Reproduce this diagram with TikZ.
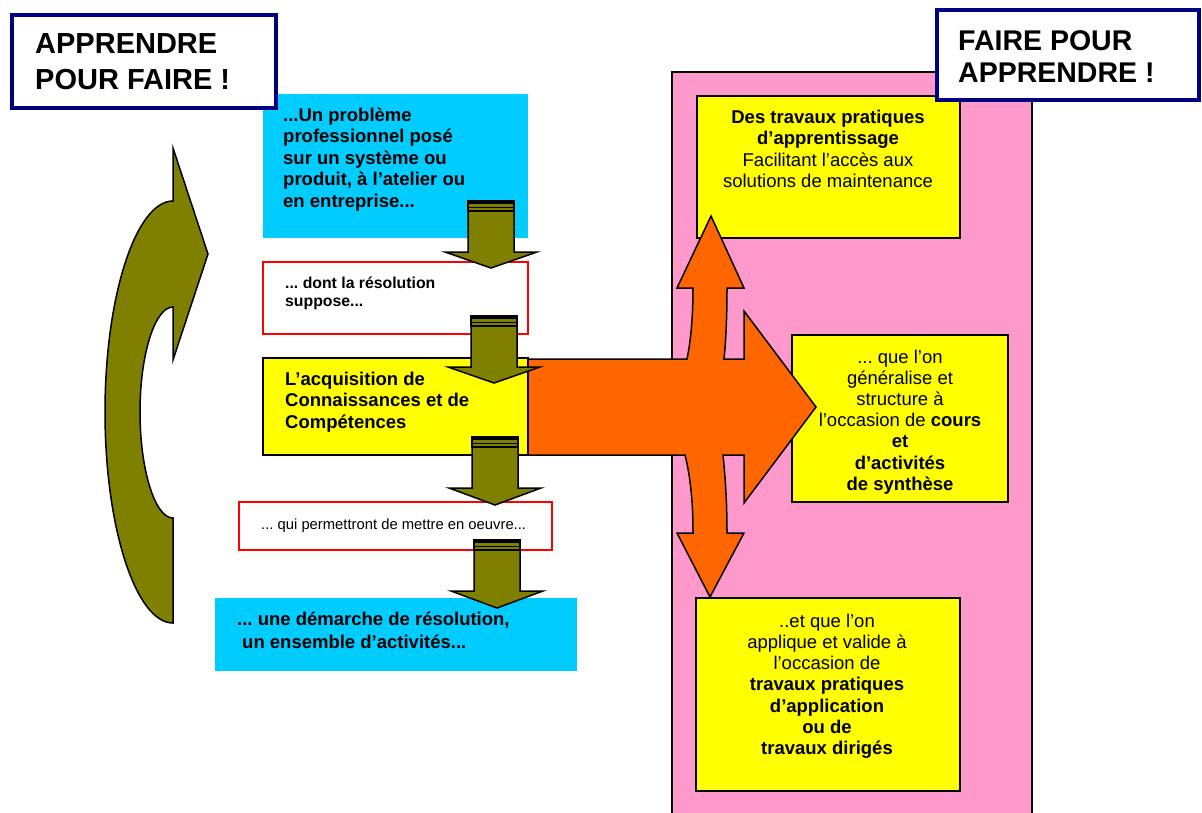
\documentclass[tikz,border=0pt]{standalone}
\usepackage{fontspec}
\setmainfont{Liberation Sans}
\frenchspacing
\definecolor{colCyan}{HTML}{00CCFF}
\definecolor{colPink}{HTML}{FF99CC}
\definecolor{colOrange}{HTML}{FF6600}
\definecolor{colOlive}{HTML}{808000}
\definecolor{colNavy}{HTML}{000080}
\definecolor{colYellow}{HTML}{FFFF00}
\definecolor{colRed}{HTML}{FF0000}
\newcommand{\myBody}{\fontsize{18.5}{21.6}\selectfont}
\newcommand{\mySmall}{\fontsize{15.8}{18}\selectfont}
\newcommand{\myTiny}{\fontsize{14.8}{17}\selectfont}
\newcommand{\myStriped}[4]{%
  \fill[colOlive] (#1-23,#2) rectangle (#1+23,#2+10);
  \draw[line width=2.6pt] (#1-23,#2+1.3) -- (#1+23,#2+1.3);
  \draw[line width=0.9pt] (#1-23,#2+6) -- (#1+23,#2+6);
  \draw[line width=1.2pt] (#1-23,#2) rectangle (#1+23,#2+10);
  \draw[olivearrow] (#1-23,#2+10) -- (#1-23,#3) -- (#1-46,#3) -- (#1,#4) -- (#1+46,#3) -- (#1+23,#3) -- (#1+23,#2+10) -- cycle;
}
\tikzset{
  boxbase/.style={anchor=north west, inner sep=0, outer sep=0},
  bluebox/.style={boxbase, fill=colCyan, draw=none},
  redbox/.style={boxbase, fill=white, draw=colRed, line width=1.3pt},
  yellowbox/.style={boxbase, fill=colYellow, draw=black, line width=1.5pt},
  pinkbox/.style={boxbase, fill=colPink, draw=black, line width=1.5pt},
  titlebox/.style={boxbase, fill=white, draw=colNavy, line width=4pt},
  lefttext/.style={anchor=base west, inner sep=0},
  centertext/.style={anchor=base, inner sep=0},
  olivearrow/.style={fill=colOlive, draw=black, line width=1.5pt, line join=miter},
  orangearrow/.style={fill=colOrange, draw=black, line width=1.5pt, line join=miter},
}
\begin{document}
\begin{tikzpicture}[x=1pt,y=-1pt]
\useasboundingbox (0,0) rectangle (1202,812);
\fill[white] (0,0) rectangle (1202,812);

% pink panel
\node[pinkbox, minimum width=360, minimum height=780] (pink) at (672,72) {};

% right yellow boxes
\node[yellowbox, minimum width=263, minimum height=142] (ry1) at (697,96) {};
\node[centertext] (ry1t) at (828,123) {\parbox[t]{300pt}{\centering\myBody
  \textbf{Des travaux pratiques}\\\textbf{d’apprentissage}\\Facilitant l’accès aux\\solutions de maintenance}};

\node[yellowbox, minimum width=216, minimum height=167] (ry2) at (792,335) {};
\node[centertext] (ry2t) at (900,363) {\parbox[t]{300pt}{\centering\fontsize{18.5}{21.2}\selectfont
  ... que l’on\\généralise et\\structure à\\l’occasion de \textbf{cours}\\\textbf{et}\\\textbf{d’activités}\\\textbf{de synthèse}}};

\node[yellowbox, minimum width=264, minimum height=193] (ry3) at (696,598) {};
\node[centertext] (ry3t) at (827,627) {\parbox[t]{300pt}{\centering\fontsize{18.5}{21.3}\selectfont
  ..et que l’on\\applique et valide à\\l’occasion de\\\textbf{travaux pratiques}\\\textbf{d’application}\\\textbf{ou de}\\\textbf{travaux dirigés}}};

% left column
\node[bluebox, minimum width=265, minimum height=144] (lb1) at (263,94) {};
\node[lefttext] (lb1t) at (283,121) {\parbox[t]{260pt}{\raggedright\myBody\bfseries
  ...Un problème\\professionnel posé\\sur un système ou\\produit, à l’atelier ou\\en entreprise...}};

\node[redbox, minimum width=265, minimum height=72] (lr1) at (263,262) {};
\node[lefttext] (lr1t) at (285,288) {\parbox[t]{240pt}{\raggedright\mySmall\bfseries
  ... dont la résolution\\suppose...}};

\node[yellowbox, minimum width=265, minimum height=97] (ly) at (263,358) {};
\node[lefttext] (lyt) at (285,385) {\parbox[t]{260pt}{\raggedright\fontsize{18.5}{21.5}\selectfont\bfseries
  L’acquisition de\\Connaissances et de\\Compétences}};

\node[redbox, minimum width=313, minimum height=48] (lr2) at (239,502) {};
\node[lefttext] (lr2t) at (261,529) {\myTiny ... qui permettront de mettre en oeuvre...};

\node[bluebox, minimum width=362, minimum height=73] (lb2) at (215,598) {};
\node[lefttext] (lb2t) at (237,625) {\parbox[t]{340pt}{\raggedright\fontsize{18.5}{23}\selectfont\bfseries
  ... une démarche de résolution,\\\hspace*{5pt}un ensemble d’activités...}};

% orange cross arrow
\draw[orangearrow] (528,359) -- (687,359)
  .. controls (691,340) and (693,315) .. (693,288)
  -- (677,288) -- (711,216) -- (744,288) -- (727,288)
  .. controls (727,315) and (726,340) .. (724,359)
  -- (744,359) -- (744,311) -- (816,407) -- (744,503) -- (744,455) -- (723,455)
  .. controls (725,475) and (727,500) .. (727,533)
  -- (744,533) -- (710,597) -- (677,533) -- (693,533)
  .. controls (693,500) and (690,475) .. (685,455)
  -- (528,455) -- cycle;

% olive striped arrows
\myStriped{491}{201}{252}{268}
\myStriped{494}{316}{367}{383}
\myStriped{495}{437}{488}{505}
\myStriped{497}{540}{591}{608}

% curved olive arrow
\draw[olivearrow] (173,623)
  .. controls (136,623) and (105,528) .. (105,412)
  .. controls (105,296) and (136,201) .. (173,201)
  -- (173,148) -- (208,254) -- (173,360) -- (173,307)
  .. controls (155,307) and (140,354) .. (140,412)
  .. controls (140,470) and (155,518) .. (173,518)
  -- cycle;

% titles
\node[titlebox, minimum width=264, minimum height=93] (tl) at (12,15) {};
\node[lefttext] (tlt) at (35,53) {\parbox[t]{240pt}{\raggedright\fontsize{29}{36}\selectfont\bfseries APPRENDRE\\POUR FAIRE !}};
\node[titlebox, minimum width=262, minimum height=90] (tr) at (937,10) {};
\node[lefttext] (trt) at (958,50) {\parbox[t]{240pt}{\raggedright\fontsize{28.5}{32}\selectfont\bfseries FAIRE POUR\\APPRENDRE !}};
\end{tikzpicture}
\end{document}
